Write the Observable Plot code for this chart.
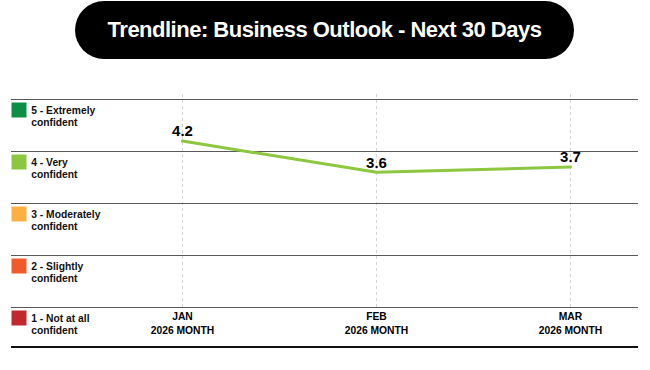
<!DOCTYPE html>
<html>
<head>
<meta charset="utf-8">
<script src="https://cdn.jsdelivr.net/npm/d3@7"></script>
<script src="https://cdn.jsdelivr.net/npm/@observablehq/plot@0.6"></script>
<style>
  body { margin: 0; background: #fff; font-family: "Liberation Sans", Arial, sans-serif; }
  #title {
    margin: 1px 0 0 75px; width: 499px; height: 58px; border-radius: 29px;
    background: #000; color: #fff; font-weight: bold; font-size: 22px;
    letter-spacing: -0.5px; display: flex; align-items: center; justify-content: center;
  }
  #chart { margin-top: 1px; }
</style>
</head>
<body>
<div id="title">Trendline: Business Outlook - Next 30 Days</div>
<div id="chart"></div>
<script>
const months = ["JAN", "FEB", "MAR"];
const yearLabels = ["2026 MONTH", "2026 MONTH", "2026 MONTH"];
const values = [4.2, 3.6, 3.7];
const valueLabels = ["4.2", "3.6", "3.7"];
const levels = [5, 4, 3, 2, 1];
const levelLabels = ["5 - Extremely\nconfident", "4 - Very\nconfident", "3 - Moderately\nconfident", "2 - Slightly\nconfident", "1 - Not at all\nconfident"];
const levelColors = ["#0b8f47", "#8dc63f", "#fbb040", "#f15a29", "#c1272d"];

const series = months.map((m, i) => ({month: m, year: yearLabels[i], value: values[i], label: valueLabels[i]}));
const legend = levels.map((l, i) => ({level: l, label: levelLabels[i], color: levelColors[i]}));

const W = 650, H = 300;
const plot = Plot.plot({
  width: W, height: H,
  marginLeft: 11, marginRight: 12, marginTop: 39, marginBottom: 13,
  style: {fontFamily: "'Liberation Sans', Arial, sans-serif", background: "transparent"},
  x: {type: "point", domain: months, range: [182, 570], padding: 0, axis: null},
  y: {domain: [1, 5], range: [247, 39], axis: null},
  marks: [
    Plot.ruleX(series, {x: "month", y1: 1, y2: 5, insetBottom: 5, stroke: "#d4d4d4", strokeDasharray: "3,3", strokeWidth: 1}),
    Plot.ruleY(levels, {stroke: "#5a5a5a", strokeWidth: 1.2}),
    Plot.line(series, {x: "month", y: "value", stroke: "#8dc63f", strokeWidth: 3}),
    Plot.text(series, {x: "month", y: "value", text: "label", dy: -9.5, fontSize: 15, fontWeight: "bold", fill: "#000"}),
    Plot.dot(legend, {y: "level", frameAnchor: "left", dx: 7.5, dy: 10.5, symbol: "square", r: 8.46, fill: "color", stroke: "none"}),
    Plot.text(legend, {y: "level", text: "label", frameAnchor: "left", textAnchor: "start", lineAnchor: "top", dx: 19.7, dy: 6, fontSize: 10.3, fontWeight: "bold", lineHeight: 1.17, fill: "#111"}),
    Plot.text(series, {x: "month", text: "month", frameAnchor: "bottom", dy: -27.5, fontSize: 10.3, fontWeight: "bold", fill: "#000"}),
    Plot.text(series, {x: "month", text: "year", frameAnchor: "bottom", dy: -13.5, fontSize: 10.3, fontWeight: "bold", fill: "#000", letterSpacing: "-0.3px"})
  ]
});
d3.select(plot).append("line")
  .attr("x1", 11).attr("x2", W - 12)
  .attr("y1", H - 13).attr("y2", H - 13)
  .attr("stroke", "#111").attr("stroke-width", 2);
document.getElementById("chart").appendChild(plot);
</script>
</body>
</html>
